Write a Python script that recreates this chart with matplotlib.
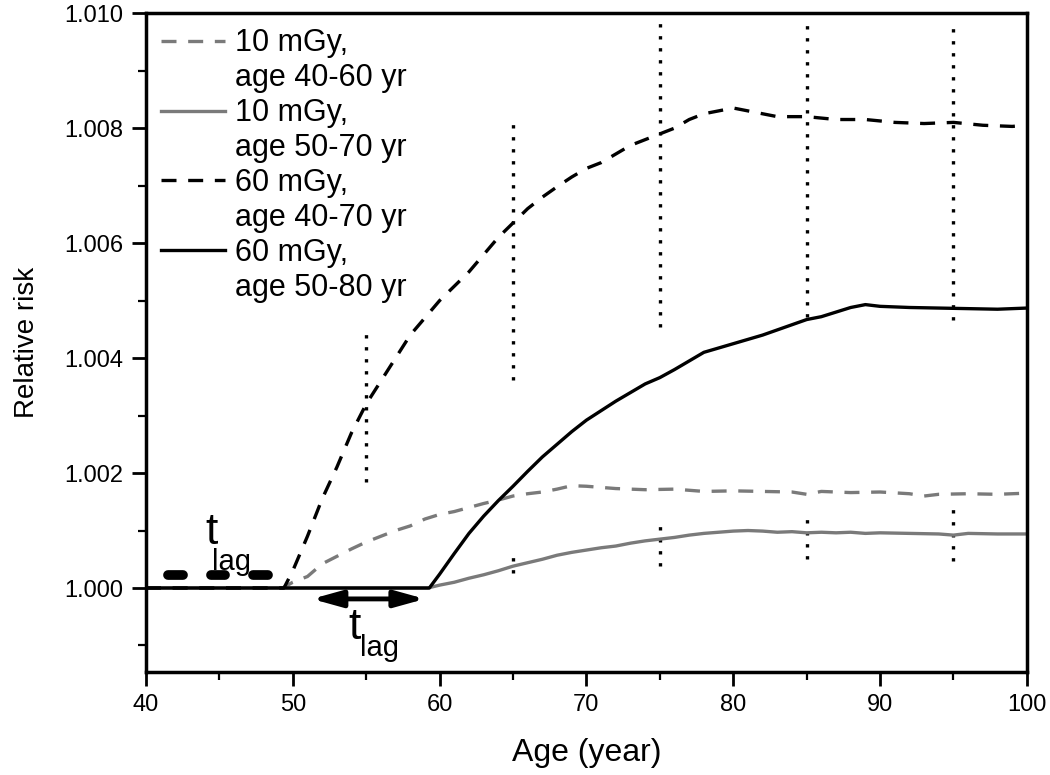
import numpy as np
import matplotlib.pyplot as plt
from matplotlib.ticker import MultipleLocator, FormatStrFormatter

plt.rcParams['font.family'] = ['Liberation Sans', 'DejaVu Sans']

# 10 mGy, age 40-60 yr (grey dashed)
age_g1 = [40, 49.3, 50, 51, 52, 53, 54, 55, 56, 57, 58, 59, 60, 61, 62, 63, 64, 65, 66, 67, 68, 69,
          70, 72, 74, 76, 78, 80, 82, 84, 85, 86, 88, 90, 92, 93, 94, 96, 98, 100]
rr_g1 = [1.0, 1.0, 1.0001, 1.0002, 1.00042, 1.00055, 1.00068, 1.0008, 1.0009, 1.001, 1.00108, 1.0012,
         1.00128, 1.00133, 1.0014, 1.00147, 1.00153, 1.0016, 1.00164, 1.00167, 1.00172, 1.00178,
         1.00177, 1.00173, 1.00171, 1.00172, 1.00168, 1.00169, 1.00168, 1.00167, 1.00163, 1.00168,
         1.00166, 1.00167, 1.00164, 1.0016, 1.00163, 1.00164, 1.00163, 1.00165]

# 10 mGy, age 50-70 yr (grey solid)
age_g2 = [40, 59.2, 60, 61, 62, 63, 64, 65, 66, 67, 68, 69, 70, 71, 72, 73, 74, 75, 76, 77, 78, 79,
          80, 81, 82, 83, 84, 85, 86, 87, 88, 89, 90, 92, 94, 95, 96, 98, 100]
rr_g2 = [1.0, 1.0, 1.00005, 1.0001, 1.00017, 1.00023, 1.0003, 1.00038, 1.00044, 1.0005, 1.00057,
         1.00062, 1.00066, 1.0007, 1.00073, 1.00078, 1.00082, 1.00085, 1.00088, 1.00092, 1.00095,
         1.00097, 1.00099, 1.001, 1.00099, 1.00097, 1.00098, 1.00096, 1.00097, 1.00096, 1.00097,
         1.00095, 1.00096, 1.00095, 1.00094, 1.00092, 1.00095, 1.00094, 1.00094]

# 60 mGy, age 40-70 yr (black dashed)
age_b1 = [40, 49.4, 50, 51, 52, 53, 54, 55, 56, 57, 58, 59, 60, 61, 62, 63, 64, 65, 66, 67, 68, 69,
          70, 71, 72, 73, 74, 75, 76, 77, 78, 79, 80, 81, 82, 83, 85, 87, 89, 91, 93, 95, 97, 99, 100]
rr_b1 = [1.0, 1.0, 1.0003, 1.0009, 1.00155, 1.0021, 1.0027, 1.0032, 1.0036, 1.004, 1.0044, 1.0047,
         1.005, 1.00525, 1.0055, 1.0058, 1.0061, 1.00635, 1.0066, 1.0068, 1.00698, 1.00715, 1.0073,
         1.0074, 1.00755, 1.0077, 1.0078, 1.0079, 1.008, 1.00815, 1.00825, 1.0083, 1.00835, 1.0083,
         1.00825, 1.0082, 1.0082, 1.00815, 1.00815, 1.0081, 1.00808, 1.0081, 1.00805, 1.00803, 1.00805]

# 60 mGy, age 50-80 yr (black solid)
age_b2 = [40, 59.3, 60, 61, 62, 63, 64, 65, 66, 67, 68, 69, 70, 72, 74, 75, 76, 78, 80, 82, 84, 85,
          86, 88, 89, 90, 92, 94, 96, 98, 100]
rr_b2 = [1.0, 1.0, 1.00024, 1.0006, 1.00095, 1.00125, 1.00152, 1.00177, 1.00203, 1.00228, 1.0025,
         1.00272, 1.00292, 1.00325, 1.00355, 1.00366, 1.0038, 1.0041, 1.00425, 1.0044, 1.00458,
         1.00467, 1.00472, 1.00488, 1.00493, 1.0049, 1.00488, 1.00487, 1.00486, 1.00485, 1.00487]

# dotted vertical ranges
dot_age = [55, 65, 75, 85, 95]
dot_lo = [1.00184, 1.00362, 1.00454, 1.00471, 1.00466]
dot_hi = [1.00443, 1.00817, 1.00984, 1.00988, 1.00985]
dot2_age = [65, 75, 85, 95]
dot2_lo = [1.00026, 1.00038, 1.0005, 1.00047]
dot2_hi = [1.00063, 1.00118, 1.00129, 1.00144]

# t_lag arrows
lag_dash = [(41.5, 42.5), (44.4, 45.4), (47.3, 48.3)]
lag_dash_y = 1.00023
lag_solid = (51.3, 59.0)
lag_solid_y = 0.99981

fig = plt.figure(figsize=(10.5, 7.75), dpi=100)
ax = fig.add_axes([0.139, 0.133, 0.839, 0.85])

grey = '#7a7a7a'
ax.vlines(dot_age, dot_lo, dot_hi, colors='k', linestyles=(0, (1, 2.6)), lw=2.4)
ax.vlines(dot2_age, dot2_lo, dot2_hi, colors='k', linestyles=(0, (1, 2.6)), lw=2.4)

ax.plot(age_g1, rr_g1, color=grey, lw=2.4, ls=(0, (4.5, 3.5)), label='10 mGy,')
ax.plot([], [], color='none', label='age 40-60 yr')
ax.plot(age_g2, rr_g2, color=grey, lw=2.4, label='10 mGy,')
ax.plot([], [], color='none', label='age 50-70 yr')
ax.plot(age_b1, rr_b1, color='k', lw=2.4, ls=(0, (4.5, 3.5)), label='60 mGy,')
ax.plot([], [], color='none', label='age 40-70 yr')
ax.plot(age_b2, rr_b2, color='k', lw=2.4, label='60 mGy,')
ax.plot([], [], color='none', label='age 50-80 yr')

# dashed t_lag arrow: short rounded blobs
for x0, x1 in lag_dash:
    ax.plot([x0, x1], [lag_dash_y, lag_dash_y], color='k', lw=7, solid_capstyle='round')
ax.annotate('', xy=(lag_solid[0], lag_solid_y), xytext=(lag_solid[1], lag_solid_y),
            arrowprops=dict(arrowstyle='<|-|>,head_length=0.9,head_width=0.25',
                            lw=3.5, color='k', mutation_scale=20, shrinkA=0, shrinkB=0))
ax.text(44.45, 1.00096, 't', fontsize=32, ha='center', va='center')
ax.text(44.5, 1.00046, 'lag', fontsize=21, ha='left', va='center')
ax.text(54.2, 0.99932, 't', fontsize=32, ha='center', va='center')
ax.text(54.6, 0.99895, 'lag', fontsize=21, ha='left', va='center')

ax.set_xlim(40, 100)
ax.set_ylim(0.99854, 1.010)
ax.xaxis.set_major_locator(MultipleLocator(10))
ax.xaxis.set_minor_locator(MultipleLocator(5))
ax.yaxis.set_major_locator(MultipleLocator(0.002))
ax.yaxis.set_minor_locator(MultipleLocator(0.001))
ax.yaxis.set_major_formatter(FormatStrFormatter('%.3f'))
ax.tick_params(which='major', direction='out', length=10, width=2, labelsize=17, pad=6)
ax.tick_params(which='minor', direction='out', length=6, width=1.6)
for s in ax.spines.values():
    s.set_linewidth(2.5)

ax.set_xlabel('Age (year)', fontsize=23, labelpad=16)
ax.set_ylabel('Relative risk', fontsize=20, labelpad=18)

leg = ax.legend(loc='upper left', frameon=False, fontsize=22, handlelength=2.1,
                handletextpad=0.3, labelspacing=0.16, borderaxespad=0.1)

fig.savefig('out.png', dpi=100)
